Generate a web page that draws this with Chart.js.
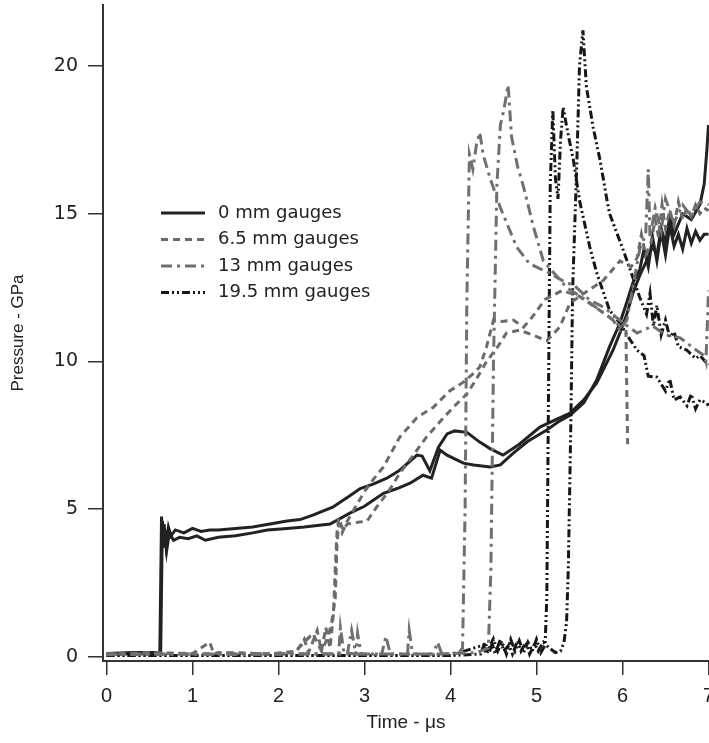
<!DOCTYPE html>
<html>
<head>
<meta charset="utf-8">
<script src="https://cdn.jsdelivr.net/npm/chart.js@4/dist/chart.umd.min.js"></script>
<style>
  html, body { margin: 0; padding: 0; background: #fff; }
  canvas { display: block; }
</style>
</head>
<body>
<canvas id="myChart" width="709" height="743"></canvas>
<script>
'use strict';

// axis ticks
var xTicks = [0, 1, 2, 3, 4, 5, 6, 7];
var yTicks = [0, 5, 10, 15, 20];
var legendLabels = ['0 mm gauges', '6.5 mm gauges', '13 mm gauges', '19.5 mm gauges'];

// 0 mm gauges (solid)
var s1X = [0, 0.3, 0.62, 0.64, 0.655, 0.67, 0.69, 0.72, 0.75, 0.8, 0.9, 1.0, 1.1, 1.2, 1.3, 1.5, 1.7, 1.9, 2.1, 2.25, 2.4, 2.63, 2.8, 2.95, 3.1, 3.26, 3.41, 3.61, 3.67, 3.76, 3.86, 3.96, 4.05, 4.19, 4.34, 4.46, 4.61, 4.8, 5.04, 5.2, 5.39, 5.55, 5.7, 5.89, 5.97, 6.05, 6.12, 6.2, 6.28, 6.35, 6.4, 6.45, 6.5, 6.55, 6.6, 6.7, 6.8, 6.9, 6.95, 6.98, 7.0];
var s1Y = [0.12, 0.15, 0.15, 4.75, 3.9, 4.5, 3.8, 4.4, 4.1, 4.3, 4.2, 4.35, 4.25, 4.3, 4.3, 4.35, 4.4, 4.5, 4.6, 4.65, 4.8, 5.07, 5.4, 5.7, 5.85, 6.05, 6.32, 6.83, 6.8, 6.3, 7.1, 7.55, 7.65, 7.6, 7.27, 7.05, 6.83, 7.2, 7.78, 8.0, 8.25, 8.7, 9.27, 10.38, 10.96, 11.6, 12.3, 12.9, 13.4, 13.9, 13.6, 14.5, 14.0, 14.9, 14.3, 15.0, 14.8, 15.3, 16.0, 17.1, 18.0];
var s2X = [0, 0.3, 0.63, 0.65, 0.66, 0.68, 0.7, 0.73, 0.78, 0.85, 0.95, 1.05, 1.15, 1.3, 1.5, 1.7, 1.87, 2.1, 2.3, 2.45, 2.6, 2.83, 3.0, 3.22, 3.38, 3.53, 3.68, 3.78, 3.88, 3.96, 4.15, 4.27, 4.46, 4.58, 4.73, 4.9, 5.12, 5.25, 5.39, 5.55, 5.7, 5.85, 5.97, 6.05, 6.12, 6.2, 6.25, 6.3, 6.35, 6.4, 6.45, 6.5, 6.55, 6.6, 6.65, 6.7, 6.75, 6.8, 6.85, 6.9, 6.95, 7.0];
var s2Y = [0.08, 0.12, 0.1, 4.6, 3.7, 4.3, 3.6, 4.2, 3.95, 4.05, 4.0, 4.1, 3.95, 4.05, 4.1, 4.2, 4.3, 4.35, 4.4, 4.45, 4.5, 4.87, 5.1, 5.54, 5.7, 5.88, 6.15, 6.05, 7.0, 6.83, 6.56, 6.5, 6.43, 6.5, 6.9, 7.3, 7.68, 7.95, 8.18, 8.6, 9.37, 10.5, 11.3, 12.0, 12.65, 13.1, 13.8, 13.2, 14.2, 13.4, 14.4, 13.6, 14.6, 13.9, 14.3, 13.8, 14.5, 14.0, 14.4, 14.1, 14.3, 14.3];

// 6.5 mm gauges (dashed)
var d1X = [0, 0.5, 1.0, 1.2, 1.25, 1.3, 1.8, 2.2, 2.3, 2.35, 2.45, 2.5, 2.55, 2.6, 2.64, 2.66, 2.68, 2.7, 2.75, 2.8, 2.9, 3.03, 3.14, 3.28, 3.41, 3.56, 3.72, 3.92, 4.05, 4.19, 4.3, 4.42, 4.55, 4.65, 4.8, 4.95, 5.12, 5.27, 5.39, 5.55, 5.78, 5.97, 6.1, 6.17, 6.22, 6.27, 6.33, 6.38, 6.42, 6.46, 6.5, 6.55, 6.6, 6.65, 6.7, 6.75, 6.8, 6.85, 6.9, 6.95, 7.0];
var d1Y = [0.1, 0.15, 0.12, 0.5, 0.1, 0.15, 0.1, 0.15, 0.6, 0.15, 0.9, 0.2, 1.0, 0.3, 1.5, 3.0, 4.2, 4.7, 4.3, 4.5, 4.55, 4.6, 5.07, 5.6, 6.22, 6.8, 7.44, 8.1, 8.5, 8.9, 9.4, 10.0, 10.5, 10.96, 11.06, 10.9, 10.7, 11.16, 11.97, 12.3, 12.75, 13.4, 13.2, 13.5, 14.3, 13.6, 14.0, 14.8, 14.2, 15.3, 14.5, 15.1, 14.6, 15.4, 14.8, 15.2, 14.9, 15.3, 15.0, 15.2, 15.1];
var d2X = [0, 0.6, 1.1, 1.5, 1.9, 2.2, 2.4, 2.5, 2.58, 2.62, 2.66, 2.68, 2.7, 2.74, 2.8, 2.9, 3.0, 3.1, 3.22, 3.41, 3.61, 3.8, 3.99, 4.15, 4.27, 4.34, 4.42, 4.5, 4.6, 4.73, 4.85, 4.95, 5.1, 5.3, 5.5, 5.7, 5.85, 5.97, 6.04, 6.05, 6.06];
var d2Y = [0.1, 0.12, 0.1, 0.15, 0.1, 0.2, 0.8, 0.2, 0.7, 1.2, 2.0, 3.8, 4.5, 4.2, 4.6, 5.1, 5.6, 6.0, 6.43, 7.44, 8.1, 8.45, 9.0, 9.3, 9.6, 9.81, 10.5, 11.4, 11.35, 11.4, 11.16, 11.5, 12.1, 12.4, 12.2, 11.8, 11.5, 11.2, 11.1, 9.0, 7.2];

// 13 mm gauges (dash-dot)
var t1X = [0, 0.8, 1.6, 2.4, 2.7, 2.72, 2.76, 2.9, 2.92, 2.96, 3.3, 3.5, 3.52, 3.56, 3.9, 4.1, 4.14, 4.17, 4.19, 4.22, 4.26, 4.3, 4.34, 4.38, 4.46, 4.58, 4.77, 4.92, 5.16, 5.35, 5.43, 5.62, 5.78, 6.01, 6.17, 6.35, 6.5, 6.67, 6.86, 6.95, 6.97, 6.99, 7.0];
var t1Y = [0.08, 0.1, 0.08, 0.1, 0.1, 1.0, 0.15, 0.1, 0.8, 0.1, 0.1, 0.1, 0.9, 0.1, 0.1, 0.15, 0.3, 5.0, 12.0, 17.0, 16.5, 17.3, 17.75, 17.0, 16.2, 15.2, 13.87, 13.3, 12.98, 12.65, 12.6, 12.07, 11.84, 11.3, 10.96, 11.2, 10.9, 10.8, 10.38, 10.2, 10.0, 11.5, 12.4];
var t2X = [0, 1.0, 2.0, 2.8, 2.85, 2.9, 3.2, 3.25, 3.3, 3.8, 3.85, 3.9, 4.3, 4.44, 4.47, 4.5, 4.54, 4.58, 4.62, 4.67, 4.71, 4.78, 4.85, 4.97, 5.08, 5.2, 5.35, 5.58, 5.75, 5.89, 5.97, 6.05, 6.12, 6.2, 6.27, 6.3, 6.32, 6.38, 6.45, 6.5, 6.6, 6.7, 6.8, 6.9, 7.0];
var t2Y = [0.1, 0.1, 0.12, 0.1, 0.9, 0.1, 0.1, 0.7, 0.1, 0.1, 0.5, 0.1, 0.15, 0.3, 3.0, 10.0, 16.0, 18.0, 18.5, 19.35, 17.6, 16.6, 15.9, 14.5, 13.4, 13.0, 12.5, 12.07, 11.7, 11.4, 11.06, 11.4, 12.5, 13.8, 14.3, 16.5, 14.2, 15.2, 14.4, 15.5, 14.7, 15.3, 14.9, 15.4, 15.3];

// 19.5 mm gauges (dash-dot-dot)
var b1X = [0, 1.0, 2.0, 3.0, 4.0, 4.35, 4.4, 4.45, 4.5, 4.55, 4.6, 4.65, 4.7, 4.75, 4.8, 4.85, 4.9, 4.95, 5.0, 5.05, 5.1, 5.12, 5.14, 5.16, 5.19, 5.22, 5.25, 5.28, 5.31, 5.36, 5.43, 5.5, 5.62, 5.7, 5.85, 5.97, 6.05, 6.17, 6.25, 6.3, 6.4, 6.5, 6.55, 6.6, 6.67, 6.75, 6.8, 6.85, 6.9, 6.98, 7.0];
var b1Y = [0.05, 0.05, 0.05, 0.05, 0.05, 0.1, 0.5, 0.15, 0.6, 0.2, 0.5, 0.1, 0.6, 0.2, 0.55, 0.15, 0.5, 0.2, 0.6, 0.15, 0.4, 2.0, 9.0, 16.0, 18.5, 16.2, 15.5, 17.5, 18.6, 17.8, 16.8, 15.45, 13.87, 13.0, 11.73, 11.3, 10.9, 10.38, 10.2, 9.5, 9.47, 9.0, 9.4, 8.7, 8.8, 8.5, 8.9, 8.4, 8.7, 8.6, 8.5];
var b2X = [0, 1.0, 2.0, 3.0, 4.0, 4.38, 4.42, 4.48, 4.52, 4.58, 4.62, 4.68, 4.72, 4.78, 4.82, 4.88, 4.92, 4.98, 5.02, 5.08, 5.15, 5.22, 5.28, 5.32, 5.35, 5.37, 5.4, 5.42, 5.47, 5.5, 5.54, 5.58, 5.66, 5.74, 5.82, 5.85, 6.01, 6.12, 6.2, 6.28, 6.32, 6.36, 6.4, 6.45, 6.5, 6.55, 6.6, 6.65, 6.75, 6.85, 6.9, 6.98, 7.0];
var b2Y = [0.05, 0.05, 0.05, 0.05, 0.05, 0.4, 0.1, 0.5, 0.1, 0.6, 0.2, 0.4, 0.1, 0.55, 0.2, 0.5, 0.1, 0.45, 0.2, 0.5, 0.3, 0.15, 0.2, 0.5, 1.2, 3.0, 8.0, 12.4, 16.8, 20.0, 21.2, 19.3, 17.9, 16.8, 15.45, 15.0, 13.76, 12.85, 12.17, 11.6, 12.3, 11.2, 11.9, 10.9, 11.4, 10.82, 11.0, 10.5, 10.38, 10.1, 10.2, 9.94, 9.9];

// line look for each gauge group
var groupStyles = [
  { color: '#222222', dash: [] },
  { color: '#6b6b6b', dash: [7, 5] },
  { color: '#707070', dash: [11, 5, 3, 5] },
  { color: '#161616', dash: [8, 3, 2, 3, 2, 3] }
];

function pts(xs, ys) {
  return xs.map(function (x, i) { return { x: x, y: ys[i] }; });
}

function makeSet(group, xs, ys) {
  var st = groupStyles[group];
  return {
    label: legendLabels[group],
    group: group,
    data: pts(xs, ys),
    borderColor: st.color,
    borderDash: st.dash,
    borderWidth: 3,
    pointRadius: 0,
    tension: 0,
    fill: false
  };
}

var datasets = [
  makeSet(2, t1X, t1Y),
  makeSet(2, t2X, t2Y),
  makeSet(1, d1X, d1Y),
  makeSet(1, d2X, d2Y),
  makeSet(3, b1X, b1Y),
  makeSet(3, b2X, b2Y),
  makeSet(0, s1X, s1Y),
  makeSet(0, s2X, s2Y)
];

// legend drawn inside the plot like the original
var innerLegend = {
  id: 'innerLegend',
  afterDraw: function (chart) {
    var ctx = chart.ctx;
    ctx.save();
    ctx.font = '18px "DejaVu Sans", sans-serif';
    ctx.textBaseline = 'middle';
    ctx.fillStyle = '#222';
    for (var i = 0; i < legendLabels.length; i++) {
      var y = 213 + i * 26.5;
      var st = groupStyles[i];
      ctx.beginPath();
      ctx.setLineDash(st.dash);
      ctx.strokeStyle = st.color;
      ctx.lineWidth = 3;
      ctx.moveTo(161, y);
      ctx.lineTo(205, y);
      ctx.stroke();
      ctx.setLineDash([]);
      ctx.fillText(legendLabels[i], 218, y);
    }
    ctx.restore();
  }
};

var ctx = document.getElementById('myChart').getContext('2d');
var chart = new Chart(ctx, {
  type: 'line',
  data: { datasets: datasets },
  options: {
    responsive: false,
    animation: false,
    devicePixelRatio: 1,
    layout: { padding: { top: 5, left: 0, right: 0, bottom: 0 } },
    plugins: {
      legend: { display: false },
      tooltip: { enabled: false }
    },
    scales: {
      x: {
        type: 'linear',
        min: -0.0407,
        max: 7.006,
        afterBuildTicks: function (s) { s.ticks = xTicks.map(function (v) { return { value: v }; }); },
        afterFit: function (s) { s.height = 82; s.paddingLeft = 0; s.paddingRight = 0; },
        grid: { drawOnChartArea: false, tickLength: 14, lineWidth: 1.5, tickColor: '#333' },
        border: { display: true, color: '#333', width: 2 },
        ticks: {
          autoSkip: false,
          maxRotation: 0,
          padding: 9,
          color: '#222',
          font: { family: '"Liberation Sans", Arial, sans-serif', size: 20 }
        },
        title: {
          display: true,
          text: 'Time - μs',
          color: '#222',
          padding: { top: 0, bottom: 9 },
          font: { family: '"Liberation Sans", Arial, sans-serif', size: 19 }
        }
      },
      y: {
        type: 'linear',
        min: -0.135,
        max: 22.06,
        afterBuildTicks: function (s) { s.ticks = yTicks.map(function (v) { return { value: v }; }); },
        afterFit: function (s) { s.width = 103; s.paddingTop = 0; s.paddingBottom = 0; },
        grid: { drawOnChartArea: false, tickLength: 15, lineWidth: 1.5, tickColor: '#333' },
        border: { display: true, color: '#333', width: 2 },
        ticks: {
          padding: 10,
          color: '#222',
          font: { family: '"DejaVu Sans", sans-serif', size: 19 }
        },
        title: {
          display: true,
          text: 'Pressure - GPa',
          color: '#222',
          padding: { top: 8, bottom: 0 },
          font: { family: '"Liberation Sans", Arial, sans-serif', size: 17 }
        }
      }
    }
  },
  plugins: [innerLegend]
});
</script>
</body>
</html>
